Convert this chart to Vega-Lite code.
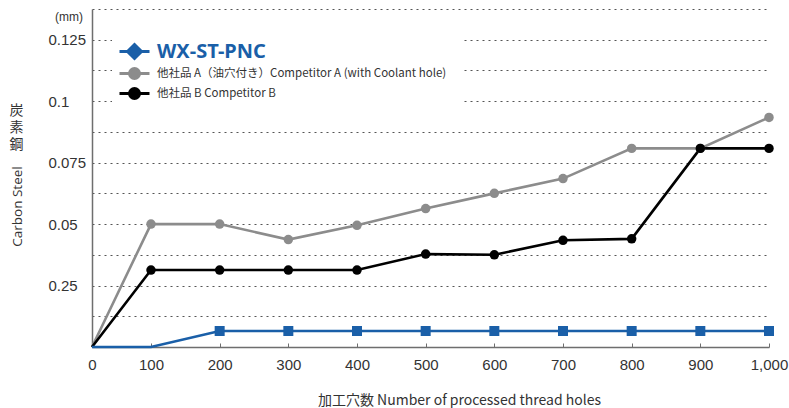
{
  "$schema": "https://vega.github.io/schema/vega-lite/v6.json",
  "autosize": {"type": "none"},
  "width": 697,
  "height": 338,
  "padding": {"left": 92, "top": 9, "right": 0, "bottom": 61},
  "background": "white",
  "config": {
    "view": {"stroke": null},
    "font": "Noto Sans CJK JP"
  },
  "title": {
    "text": "(mm)",
    "anchor": "start",
    "frame": "group",
    "orient": "top",
    "align": "left",
    "baseline": "middle",
    "offset": 0,
    "dx": -37,
    "dy": 27,
    "fontSize": 12,
    "fontWeight": "normal",
    "font": "Liberation Sans",
    "color": "#333333"
  },
  "data": {
    "values": [
      {"series": "A", "x": 0, "mm": 0},
      {"series": "A", "x": 100, "mm": 0.05},
      {"series": "A", "x": 200, "mm": 0.05},
      {"series": "A", "x": 300, "mm": 0.0437},
      {"series": "A", "x": 400, "mm": 0.0495},
      {"series": "A", "x": 500, "mm": 0.0563},
      {"series": "A", "x": 600, "mm": 0.0625},
      {"series": "A", "x": 700, "mm": 0.0685},
      {"series": "A", "x": 800, "mm": 0.0808},
      {"series": "A", "x": 900, "mm": 0.0808},
      {"series": "A", "x": 1000, "mm": 0.0934},
      {"series": "B", "x": 0, "mm": 0},
      {"series": "B", "x": 100, "mm": 0.0313},
      {"series": "B", "x": 200, "mm": 0.0313},
      {"series": "B", "x": 300, "mm": 0.0313},
      {"series": "B", "x": 400, "mm": 0.0313},
      {"series": "B", "x": 500, "mm": 0.0378},
      {"series": "B", "x": 600, "mm": 0.0375},
      {"series": "B", "x": 700, "mm": 0.0434},
      {"series": "B", "x": 800, "mm": 0.044},
      {"series": "B", "x": 900, "mm": 0.0808},
      {"series": "B", "x": 1000, "mm": 0.0808},
      {"series": "WX-ST-PNC", "x": 0, "mm": 0},
      {"series": "WX-ST-PNC", "x": 100, "mm": 0},
      {"series": "WX-ST-PNC", "x": 200, "mm": 0.0065},
      {"series": "WX-ST-PNC", "x": 300, "mm": 0.0065},
      {"series": "WX-ST-PNC", "x": 400, "mm": 0.0065},
      {"series": "WX-ST-PNC", "x": 500, "mm": 0.0065},
      {"series": "WX-ST-PNC", "x": 600, "mm": 0.0065},
      {"series": "WX-ST-PNC", "x": 700, "mm": 0.0065},
      {"series": "WX-ST-PNC", "x": 800, "mm": 0.0065},
      {"series": "WX-ST-PNC", "x": 900, "mm": 0.0065},
      {"series": "WX-ST-PNC", "x": 1000, "mm": 0.0065}
    ]
  },
  "encoding": {
    "x": {
      "field": "x",
      "type": "quantitative",
      "scale": {"domain": [0, 100, 1000], "range": [0, 59, 677]},
      "axis": {
        "values": [0, 100, 200, 300, 400, 500, 600, 700, 800, 900, 1000],
        "format": ",.0f",
        "grid": false,
        "domainColor": "#6e6e6e",
        "domainWidth": 1.5,
        "tickColor": "#6e6e6e",
        "tickSize": -4,
        "tickWidth": 1,
        "labelFont": "Liberation Sans",
        "labelFontSize": 15,
        "labelColor": "#333333",
        "labelPadding": 14,
        "labelFlush": false,
        "labelOverlap": false,
        "title": "加工穴数  Number of processed thread holes",
        "titleFont": "Noto Sans CJK JP",
        "titleFontSize": 14,
        "titleFontWeight": "normal",
        "titleColor": "#333333",
        "titleX": 367,
        "titleY": 57,
        "titleAlign": "center",
        "titleBaseline": "alphabetic"
      }
    },
    "y": {
      "field": "mm",
      "type": "quantitative",
      "scale": {"domain": [0, 0.1375], "nice": false, "zero": true}
    }
  },
  "layer": [
    {
      "mark": {"type": "line", "strokeWidth": 2.6},
      "encoding": {
        "y": {
          "field": "mm",
          "type": "quantitative",
          "axis": {
            "values": [0, 0.0125, 0.025, 0.0375, 0.05, 0.0625, 0.075, 0.0875, 0.1, 0.1125, 0.125, 0.1375],
            "labelExpr": "datum.value < 0.001 ? '' : (round(datum.value * 80) % 2 == 0 ? (round(datum.value * 80) == 2 ? '0.25' : format(datum.value, '~g')) : '')",
            "grid": true,
            "gridColor": "#555555",
            "gridDash": [2, 4],
            "gridWidth": 1,
            "ticks": false,
            "tickSize": 0,
            "domainColor": "#6e6e6e",
            "domainWidth": 1.5,
            "labelAlign": "left",
            "labelBaseline": "middle",
            "labelPadding": 44,
            "labelFont": "Liberation Sans",
            "labelFontSize": 15,
            "labelColor": "#333333",
            "labelOverlap": false,
            "labelFlush": false,
            "title": "Carbon Steel",
            "titleFont": "Open Sans",
            "titleFontSize": 13.5,
            "titleFontWeight": "normal",
            "titleColor": "#333333",
            "titleAngle": 270,
            "titleAlign": "center",
            "titleBaseline": "middle",
            "titleX": -75,
            "titleY": 197
          }
        },
        "color": {
          "field": "series",
          "type": "nominal",
          "scale": {"domain": ["WX-ST-PNC", "A", "B"], "range": ["#1a5fa8", "#8c8c8c", "#000000"]},
          "legend": {
            "orient": "none",
            "legendX": 20,
            "legendY": 20,
            "title": null,
            "fillColor": "white",
            "padding": 16,
            "symbolSize": 100,
            "symbolStrokeWidth": 3,
            "labelOffset": 16,
            "rowPadding": -3,
            "labelFont": "Noto Sans CJK JP",
            "labelFontSize": 11.5,
            "labelColor": "#333333",
            "labelLimit": 500,
            "labelExpr": "datum.value == 'A' ? '他社品 A（油穴付き）Competitor A (with Coolant hole)' : (datum.value == 'B' ? '他社品 B  Competitor B' : datum.value)",
            "encode": {
              "symbols": {
                "update": {
                  "shape": {"signal": "datum.value == 'WX-ST-PNC' ? 'M-3,0L3,0M-1.4,0L0,-1.4L1.4,0L0,1.4Z' : 'M-3,0L3,0M-1,0A1,1,0,1,1,1,0A1,1,0,1,1,-1,0Z'"},
                  "fill": {"signal": "scale('color', datum.value)"},
                  "stroke": {"signal": "scale('color', datum.value)"},
                  "strokeWidth": {"value": 3},
                  "opacity": {"value": 1},
                  "fillOpacity": {"value": 1},
                  "size": {"value": 100}
                }
              },
              "labels": {
                "update": {
                  "fontSize": {"signal": "datum.value == 'WX-ST-PNC' ? 20 : 11.5"},
                  "fontWeight": {"signal": "datum.value == 'WX-ST-PNC' ? 'bold' : 'normal'"},
                  "fill": {"signal": "datum.value == 'WX-ST-PNC' ? '#1a5fa8' : '#333333'"},
                  "font": {"signal": "datum.value == 'WX-ST-PNC' ? 'Noto Sans' : 'Noto Sans CJK JP'"}
                }
              }
            }
          }
        }
      }
    },
    {
      "transform": [{"filter": "datum.mm > 0 && datum.series != 'WX-ST-PNC'"}],
      "mark": {"type": "circle", "size": 90, "opacity": 1},
      "encoding": {
        "y": {"field": "mm", "type": "quantitative", "axis": null},
        "color": {"field": "series", "type": "nominal"}
      }
    },
    {
      "transform": [{"filter": "datum.mm > 0 && datum.series == 'WX-ST-PNC'"}],
      "mark": {"type": "square", "size": 100, "opacity": 1},
      "encoding": {
        "y": {"field": "mm", "type": "quantitative", "axis": null},
        "color": {"field": "series", "type": "nominal"}
      }
    },
    {
      "mark": {"type": "point", "opacity": 0},
      "encoding": {
        "y": {
          "field": "mm",
          "type": "quantitative",
          "axis": {
            "orient": "left",
            "labels": false,
            "ticks": false,
            "domain": false,
            "grid": false,
            "title": ["炭", "素", "鋼"],
            "titleFont": "Noto Sans CJK JP",
            "titleFontSize": 14,
            "titleFontWeight": "normal",
            "titleColor": "#333333",
            "titleLineHeight": 17,
            "titleAngle": 0,
            "titleAlign": "center",
            "titleBaseline": "top",
            "titleX": -76,
            "titleY": 94
          }
        }
      }
    }
  ],
  "resolve": {"axis": {"y": "independent"}}
}
